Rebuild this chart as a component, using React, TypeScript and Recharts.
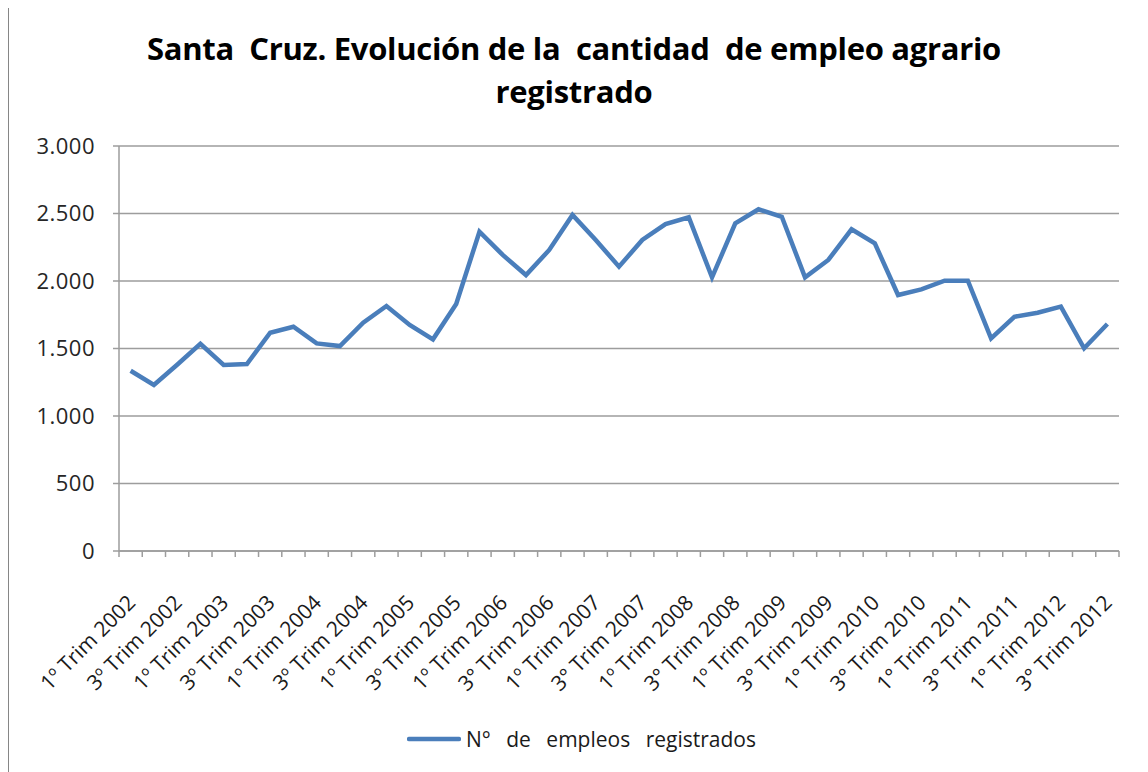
import { LineChart, Line, XAxis, YAxis, CartesianGrid, Legend } from 'recharts';

const TRIMESTRES = [
  '1º Trim 2002', '2º Trim 2002', '3º Trim 2002', '4º Trim 2002',
  '1º Trim 2003', '2º Trim 2003', '3º Trim 2003', '4º Trim 2003',
  '1º Trim 2004', '2º Trim 2004', '3º Trim 2004', '4º Trim 2004',
  '1º Trim 2005', '2º Trim 2005', '3º Trim 2005', '4º Trim 2005',
  '1º Trim 2006', '2º Trim 2006', '3° Trim 2006', '4° Trim 2006',
  '1º Trim 2007', '2º Trim 2007', '3° Trim 2007', '4° Trim 2007',
  '1º Trim 2008', '2º Trim 2008', '3° Trim 2008', '4° Trim 2008',
  '1º Trim 2009', '2º Trim 2009', '3° Trim 2009', '4° Trim 2009',
  '1° Trim 2010', '2° Trim 2010', '3° Trim 2010', '4° Trim 2010',
  '1° Trim 2011', '2° Trim 2011', '3° Trim 2011', '4° Trim 2011',
  '1° Trim 2012', '2° Trim 2012', '3° Trim 2012',
];

const EMPLEOS = [
  1335, 1230, 1380, 1535, 1378, 1385, 1617, 1661, 1538, 1518, 1691,
  1815, 1674, 1568, 1830, 2365, 2193, 2044, 2230, 2489, 2304, 2106,
  2304, 2422, 2472, 2027, 2427, 2531, 2476, 2027, 2156, 2383, 2279,
  1896, 1938, 2002, 2002, 1575, 1735, 1765, 1810, 1501, 1681,
];

const Y_TICKS = [0, 500, 1000, 1500, 2000, 2500, 3000];

const SERIE = 'N° de empleos registrados';
const TITULO = ['Santa  Cruz. Evolución de la  cantidad  de empleo agrario', 'registrado'];

const W = 1148;
const H = 772;
const PLOT_LEFT = 119;
const PLOT_RIGHT = 1119;
const STEP = (PLOT_RIGHT - PLOT_LEFT) / EMPLEOS.length;
const FONT = '"Open Sans", "Liberation Sans", sans-serif';
const AXIS_GRAY = '#9d9d9d';

const data = TRIMESTRES.map((t, i) => ({ trimestre: t, empleos: EMPLEOS[i] }));

const fmt = (v: number) => v.toLocaleString('de-DE');

function TrimTick(props: any) {
  const { x, y, payload, index } = props;
  const left = x - STEP / 2;
  const last = index === EMPLEOS.length - 1;
  const tx = x + 6;
  const ty = y + 53;
  return (
    <g>
      <line x1={left} y1={y} x2={left} y2={y + 6} stroke={AXIS_GRAY} strokeWidth={1.5} />
      {last && <line x1={x + STEP / 2} y1={y} x2={x + STEP / 2} y2={y + 6} stroke={AXIS_GRAY} strokeWidth={1.5} />}
      {index % 2 === 0 && (
        <text
          x={tx}
          y={ty}
          textAnchor="end"
          transform={`rotate(-45, ${tx}, ${ty})`}
          fontSize={21}
          fontFamily={FONT}
          fill="#1a1a1a"
        >
          {payload.value}
        </text>
      )}
    </g>
  );
}

function Leyenda() {
  return (
    <div style={{ display: 'flex', alignItems: 'center', fontFamily: FONT, fontSize: 21, color: '#1a1a1a' }}>
      <svg width={54} height={10}>
        <line x1={2} y1={5} x2={52} y2={5} stroke="#4A7EBB" strokeWidth={4.5} strokeLinecap="round" />
      </svg>
      <span style={{ marginLeft: 5, wordSpacing: 10 }}>{SERIE}</span>
    </div>
  );
}

export default function App() {
  return (
    <div style={{ position: 'relative', width: W, height: H, margin: '-8px 0 0 -8px', background: '#fff', overflow: 'hidden' }}>
      <div
        style={{
          position: 'absolute', left: 7, top: 4, width: W, height: H,
          borderLeft: '2px solid #868686', borderTop: '2px solid #868686',
        }}
      />
      <div
        style={{
          position: 'absolute', left: 0, top: 27, width: W, textAlign: 'center',
          fontFamily: FONT, fontWeight: 700, fontSize: 31, lineHeight: '43px',
          whiteSpace: 'pre', color: '#000', letterSpacing: -0.3,
        }}
      >
        {TITULO[0]}
        <br />
        {TITULO[1]}
      </div>
      <LineChart width={W} height={H} data={data} margin={{ top: 146, right: W - PLOT_RIGHT, bottom: 0, left: 0 }}>
        <CartesianGrid vertical={false} stroke={AXIS_GRAY} strokeWidth={1.5} />
        <XAxis
          dataKey="trimestre"
          interval={0}
          height={221}
          padding={{ left: STEP / 2, right: STEP / 2 }}
          tickSize={0}
          tickMargin={0}
          tickLine={false}
          axisLine={{ stroke: AXIS_GRAY, strokeWidth: 1.5 }}
          tick={<TrimTick />}
        />
        <YAxis
          width={PLOT_LEFT}
          domain={[0, 3000]}
          ticks={Y_TICKS}
          tickFormatter={fmt}
          tickSize={6}
          tickMargin={18}
          axisLine={{ stroke: AXIS_GRAY, strokeWidth: 1.5 }}
          tickLine={{ stroke: AXIS_GRAY, strokeWidth: 1.5 }}
          tick={{ fontSize: 22, fontFamily: FONT, fill: '#262626', letterSpacing: 0.5 }}
        />
        <Legend
          verticalAlign="middle"
          layout="horizontal"
          wrapperStyle={{ top: 725, left: 407, width: 'auto' }}
          content={<Leyenda />}
        />
        <Line
          type="linear"
          dataKey="empleos"
          name={SERIE}
          stroke="#4A7EBB"
          strokeWidth={4.5}
          dot={false}
          isAnimationActive={false}
        />
      </LineChart>
    </div>
  );
}
